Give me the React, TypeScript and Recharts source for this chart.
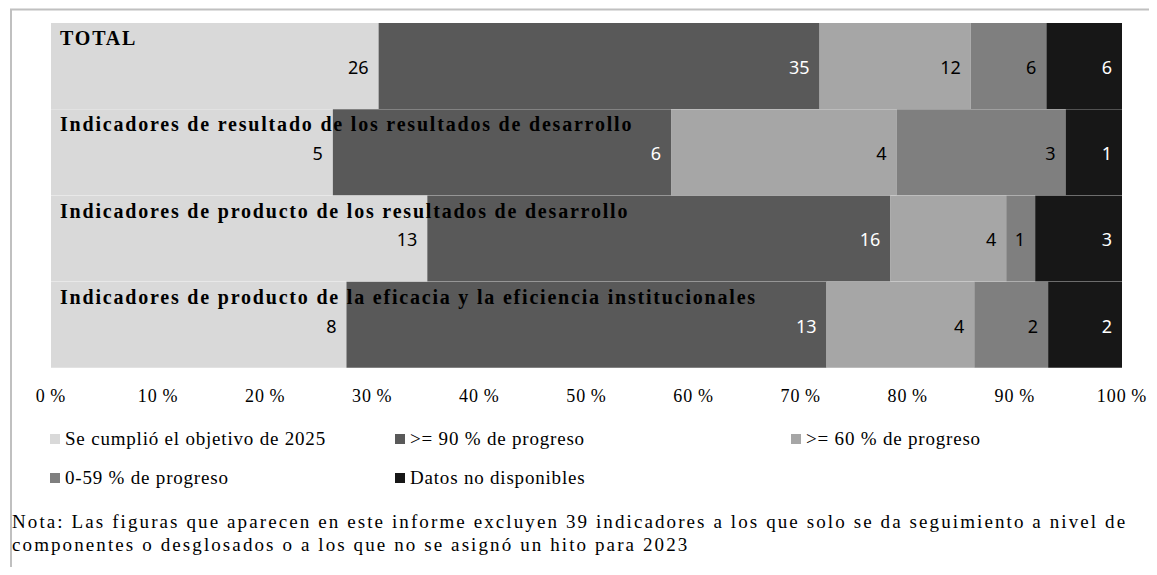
import React from "react";
import { BarChart, Bar, XAxis, YAxis, Legend, LabelList } from "recharts";

const categories = [
  "TOTAL",
  "Indicadores de resultado de los resultados de desarrollo",
  "Indicadores de producto de los resultados de desarrollo",
  "Indicadores de producto de la eficacia y la eficiencia institucionales",
];
const metTarget = [26, 5, 13, 8];
const progress90 = [35, 6, 16, 13];
const progress60 = [12, 4, 4, 4];
const progressLow = [6, 3, 1, 2];
const noData = [6, 1, 3, 2];
const seriesNames = [
  "Se cumplió el objetivo de 2025",
  ">= 90 % de progreso",
  ">= 60 % de progreso",
  "0-59 % de progreso",
  "Datos no disponibles",
];
const xTicks = [0, 0.1, 0.2, 0.3, 0.4, 0.5, 0.6, 0.7, 0.8, 0.9, 1];
const noteLines = [
  "Nota: Las figuras que aparecen en este informe excluyen 39 indicadores a los que solo se da seguimiento a nivel de",
  "componentes o desglosados o a los que no se asignó un hito para 2023",
];

const W = 1157;
const H = 575;
const MARGIN = { top: 23, right: 35, left: 51, bottom: 177 };
const LEGEND_TOP = 420;

const SERIES = [
  { key: "s0", fill: "#d9d9d9", text: "#000000" },
  { key: "s1", fill: "#595959", text: "#ffffff" },
  { key: "s2", fill: "#a6a6a6", text: "#000000" },
  { key: "s3", fill: "#7f7f7f", text: "#000000" },
  { key: "s4", fill: "#171717", text: "#ffffff" },
];

const data = categories.map((name, i) => ({
  name,
  s0: metTarget[i],
  s1: progress90[i],
  s2: progress60[i],
  s3: progressLow[i],
  s4: noData[i],
}));

const LEGEND_POS = [
  { x: 50, y: 8 },
  { x: 395, y: 8 },
  { x: 791, y: 8 },
  { x: 50, y: 47 },
  { x: 395, y: 47 },
];

const CategoryLabel = (p: any) => {
  const { y, height, value } = p;
  return (
    <text
      x={MARGIN.left + 9}
      y={y + height / 2 - 21}
      textAnchor="start"
      fontFamily="Liberation Serif"
      fontWeight="bold"
      fontSize={20}
      letterSpacing={1.8}
      fill="#000"
    >
      {value}
    </text>
  );
};

const makeValueLabel = (color: string) => (p: any) => {
  const { x, y, width, height, value } = p;
  return (
    <text
      x={x + width - 10}
      y={y + height / 2 + 3}
      textAnchor="end"
      dominantBaseline="middle"
      fontFamily="Noto Sans"
      fontSize={18}
      fill={color}
    >
      {value}
    </text>
  );
};

const renderLegend = (props: any) => {
  const payload = [...(props.payload || [])].sort(
    (a: any, b: any) => seriesNames.indexOf(a.value) - seriesNames.indexOf(b.value)
  );
  return (
    <div
      style={{
        position: "relative",
        width: W,
        height: H - LEGEND_TOP,
        fontFamily: "Liberation Serif",
        fontSize: 19,
        color: "#000",
      }}
    >
      {payload.map((item: any, i: number) => {
        const pos = LEGEND_POS[i];
        return (
          <div
            key={i}
            style={{
              position: "absolute",
              left: pos.x,
              top: pos.y,
              height: 22,
              display: "flex",
              alignItems: "center",
              whiteSpace: "nowrap",
              letterSpacing: 0.8,
            }}
          >
            <span
              style={{
                display: "inline-block",
                width: 10,
                height: 10,
                background: item.color,
                marginRight: 5,
              }}
            />
            {item.value}
          </div>
        );
      })}
      <div
        style={{
          position: "absolute",
          left: 12,
          top: 90,
          lineHeight: "23px",
          whiteSpace: "nowrap",
          letterSpacing: 2.1,
        }}
      >
        {noteLines.map((l, i) => (
          <div key={i}>{l}</div>
        ))}
      </div>
    </div>
  );
};

export default function App() {
  return (
    <div style={{ position: "relative", width: W, height: H, margin: -8, background: "#fff", overflow: "hidden" }}>
      <div style={{ position: "absolute", left: 0, top: 0 }}>
        <BarChart
          width={W}
          height={H}
          data={data}
          layout="vertical"
          stackOffset="expand"
          barCategoryGap={0}
          margin={MARGIN}
        >
          <XAxis
            type="number"
            domain={[0, 1]}
            ticks={xTicks}
            interval={0}
            tickFormatter={(v: number) => `${Math.round(v * 100)}\u2009%`}
            axisLine={false}
            tickLine={false}
            tickSize={0}
            tickMargin={21}
            height={30}
            tick={{ fontFamily: "Liberation Serif", fontSize: 18, fill: "#000", letterSpacing: 1 }}
          />
          <YAxis type="category" dataKey="name" hide />
          {SERIES.map((s, i) => (
            <Bar
              key={s.key}
              dataKey={s.key}
              name={seriesNames[i]}
              stackId="a"
              fill={s.fill}
              isAnimationActive={false}
            >
              <LabelList dataKey={s.key} content={makeValueLabel(s.text)} />
              {i === SERIES.length - 1 ? <LabelList dataKey="name" content={CategoryLabel} /> : null}
            </Bar>
          ))}
          <Legend
            layout="horizontal"
            verticalAlign="middle"
            align="center"
            wrapperStyle={{ left: 0, top: LEGEND_TOP, width: W, height: H - LEGEND_TOP }}
            content={renderLegend}
          />
        </BarChart>
      </div>
      <svg
        width={W}
        height={H}
        style={{ position: "absolute", left: 0, top: 0, pointerEvents: "none" }}
      >
        <line x1={10} y1={9.5} x2={W} y2={9.5} stroke="#c0c0c0" strokeWidth={2} />
        <line x1={11} y1={9.5} x2={11} y2={H} stroke="#c0c0c0" strokeWidth={2} />
      </svg>
    </div>
  );
}
